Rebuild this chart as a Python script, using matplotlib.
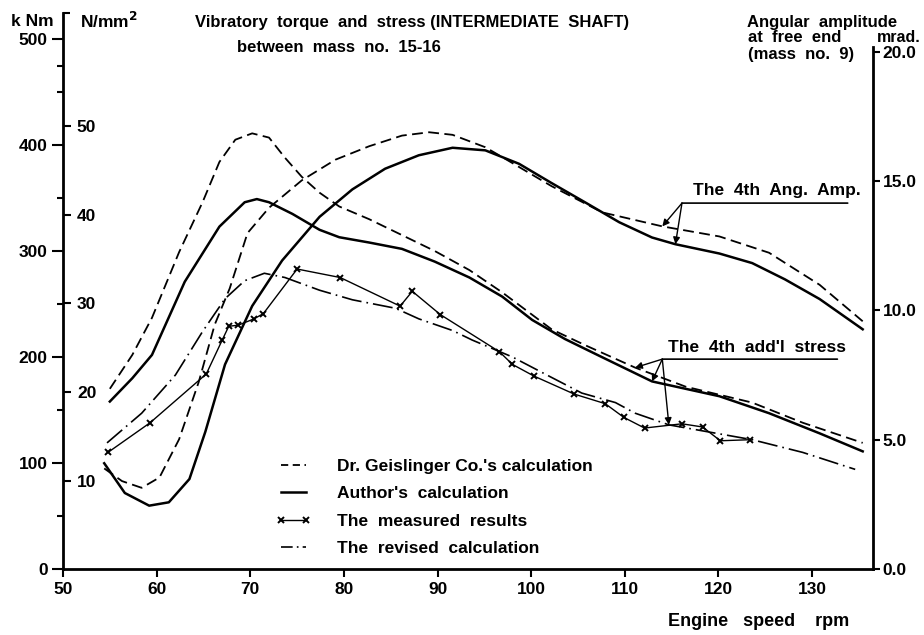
import matplotlib
matplotlib.use('Agg')
import matplotlib.pyplot as plt
from matplotlib.lines import Line2D

# Font: narrow technical lettering
plt.rcParams['font.family'] = ['Liberation Sans', 'DejaVu Sans']
plt.rcParams['font.weight'] = 'bold'
plt.rcParams['font.size'] = 12

# ---- data ----
# vibratory torque / stress (kNm), 4th order
geis_stress_rpm = [55.0, 57.4, 59.5, 62.4, 64.9, 66.7, 68.4, 70.2, 72.0, 73.7, 75.5, 77.4, 79.5,
                   82.7, 86.2, 89.7, 93.4, 96.9, 102.2, 105.8, 111.1, 116.5, 123.6, 129.0, 135.4]
geis_stress_knm = [170, 202, 237, 299, 346, 384, 405, 411, 407, 388, 370, 355, 342,
                   330, 315, 300, 282, 261, 226, 211, 190, 172, 157, 138, 119]

auth_stress_rpm = [55.0, 57.4, 59.5, 63.0, 66.7, 69.4, 70.7, 72.0, 74.5, 77.4, 79.5, 82.7, 86.2,
                   89.7, 93.4, 96.9, 100.1, 103.6, 107.3, 110.8, 112.9, 120.1, 125.4, 130.8, 135.4]
auth_stress_knm = [158, 180, 202, 271, 323, 346, 349, 346, 335, 320, 313, 308, 302,
                   290, 275, 257, 235, 217, 201, 186, 177, 163, 147, 128, 111]

revised_rpm = [54.7, 58.4, 62.0, 64.9, 67.3, 69.4, 71.5, 73.7, 77.4, 80.9, 85.5, 88.0,
               91.6, 93.7, 98.0, 101.9, 105.4, 109.0, 111.1, 114.7, 123.6, 129.0, 134.6]
revised_knm = [119, 147, 183, 224, 255, 272, 279, 275, 263, 254, 246, 236,
               225, 216, 200, 182, 166, 157, 147, 136, 122, 110, 94]

measured_rpm = [54.8, 59.3, 65.3, 67.0, 67.7, 68.7, 70.4, 71.4, 75.0, 79.6, 86.0, 87.3,
                90.3, 96.6, 98.0, 100.3, 104.6, 107.9, 109.9, 112.1, 116.1, 118.3, 120.2, 123.4]
measured_knm = [110, 138, 184, 216, 229, 230, 236, 241, 283, 275, 248, 262,
                240, 205, 193, 182, 165, 156, 143, 133, 137, 134, 121, 122]

# angular amplitude at free end (mrad), 4th order
geis_amp_rpm = [54.4, 56.3, 58.4, 60.3, 62.4, 64.5, 66.2, 67.8, 69.7, 72.0, 75.5, 79.1, 82.7,
                86.2, 89.1, 91.6, 95.1, 96.9, 102.2, 107.6, 114.0, 120.1, 125.4, 130.8, 135.4]
geis_amp_mrad = [3.89, 3.40, 3.14, 3.54, 5.02, 7.24, 9.45, 10.85, 12.99, 13.97, 15.03, 15.83, 16.35,
                 16.76, 16.89, 16.79, 16.31, 15.93, 14.80, 13.79, 13.25, 12.86, 12.23, 10.99, 9.58]

auth_amp_rpm = [54.4, 56.6, 59.2, 61.3, 63.5, 65.2, 67.3, 70.2, 73.4, 77.4, 80.9, 84.4, 88.0,
                91.6, 95.1, 98.7, 102.2, 105.8, 109.4, 112.9, 115.4, 120.1, 123.6, 127.1, 130.8, 135.4]
auth_amp_mrad = [4.09, 2.94, 2.45, 2.58, 3.48, 5.31, 7.91, 10.17, 11.93, 13.62, 14.68, 15.48, 16.00,
                 16.29, 16.19, 15.67, 14.92, 14.17, 13.41, 12.82, 12.56, 12.20, 11.83, 11.20, 10.44, 9.27]

rpm_ticks = [50, 60, 70, 80, 90, 100, 110, 120, 130]
knm_ticks = [0, 100, 200, 300, 400, 500]
stress_ticks = [10, 20, 30, 40, 50]
mrad_ticks = [0, 5, 10, 15, 20]
mrad_labels = ['0.0', '5.0', '10.0', '15.0', '20.0']
legend_labels = ["Dr. Geislinger Co.'s calculation", "Author's  calculation",
                 'The  measured  results', 'The  revised  calculation']

KNM_PER_STRESS = 8.35   # kNm per N/mm2 on the left scale
KNM_TOP = 525
MRAD_TOP = 21.52

dashed = (0, (6, 3))
dashdot = (0, (12, 3, 1, 3))

fig = plt.figure(figsize=(9.24, 6.35), dpi=100)
ax = fig.add_axes([0.0682, 0.1039, 0.8766, 0.8764])
ax2 = ax.twinx()
ax3 = ax.twinx()

ax.set_xlim(50, 136.5)
ax.set_ylim(0, KNM_TOP)
ax2.set_ylim(0, MRAD_TOP)
ax3.set_ylim(0, KNM_TOP / KNM_PER_STRESS)

# curves
ax.plot(geis_stress_rpm, geis_stress_knm, color='black', lw=1.3, ls=dashed)
ax.plot(auth_stress_rpm, auth_stress_knm, color='black', lw=1.8)
ax.plot(measured_rpm, measured_knm, color='black', lw=1.0, marker='x', ms=5, mew=1.4)
ax.plot(revised_rpm, revised_knm, color='black', lw=1.2, ls=dashdot)
ax2.plot(geis_amp_rpm, geis_amp_mrad, color='black', lw=1.3, ls=dashed)
ax2.plot(auth_amp_rpm, auth_amp_mrad, color='black', lw=1.8)

# spines
for a in (ax, ax2, ax3):
    a.spines['top'].set_visible(False)
    a.patch.set_visible(False)
ax.spines['right'].set_visible(False)
ax3.spines['left'].set_visible(False)
ax2.spines['left'].set_visible(False)
ax2.spines['bottom'].set_visible(False)
ax3.spines['bottom'].set_visible(False)
ax.spines['left'].set_linewidth(2.0)
ax.spines['bottom'].set_linewidth(2.0)
ax2.spines['right'].set_linewidth(2.0)
ax2.spines['right'].set_bounds(0, 20.2)
ax3.spines['right'].set_position(('axes', 0))
ax3.spines['right'].set_visible(False)

# x axis
ax.set_xticks(rpm_ticks)
ax.tick_params(axis='x', direction='out', length=6, width=1.5, pad=3, labelsize=12.5)

# kNm axis (left, outside)
ax.set_yticks(knm_ticks)
ax.set_yticks([50, 150, 250, 350, 450, 475], minor=True)
ax.tick_params(axis='y', which='major', direction='out', length=8, width=1.5, pad=3, labelsize=12.5)
ax.tick_params(axis='y', which='minor', direction='out', length=4, width=1.5)

# N/mm2 axis (same spine, ticks and labels inside)
ax3.set_yticks(stress_ticks)
ax3.set_yticks([KNM_TOP / KNM_PER_STRESS], minor=True)
ax3.tick_params(axis='y', which='major', direction='out', length=6, width=1.5, pad=4, labelsize=12.5)
ax3.tick_params(axis='y', which='minor', direction='out', length=5, width=1.5)

# mrad axis (right)
ax2.set_yticks(mrad_ticks)
ax2.set_yticklabels(mrad_labels)
ax2.tick_params(axis='y', direction='out', length=5, width=1.5, pad=2, labelsize=12.5)

# titles and axis names
def ftext(x, y, s, **kw):
    fig.text(x / 924, 1 - y / 635, s, **kw)

ftext(32, 21, 'k Nm', ha='center', va='center', fontsize=12.5)
ftext(80, 21, 'N/mm$^2$', ha='left', va='center', fontsize=12.5)
ftext(412, 23, 'Vibratory  torque  and  stress (INTERMEDIATE  SHAFT)', ha='center', va='center')
ftext(339, 47, 'between  mass  no.  15-16', ha='center', va='center')
ftext(747, 22, 'Angular  amplitude', ha='left', va='center')
ftext(748, 38, 'at  free  end', ha='left', va='center')
ftext(748, 54, '(mass  no.  9)', ha='left', va='center')
ftext(877, 38, 'mrad.', ha='left', va='center', fontsize=11.5)
ftext(759, 621, 'Engine   speed    rpm', ha='center', va='center', fontsize=13)

# annotations: 4th angular amplitude
amp_base = (116.1, 14.15)
ax2.annotate('', xy=(133.8, 14.15), xytext=amp_base,
             arrowprops=dict(arrowstyle='-', lw=1.2, color='black', shrinkA=0, shrinkB=0))
ax2.text(117.3, 14.45, 'The  4th  Ang.  Amp.', ha='left', va='baseline', fontsize=12.5)
ax2.annotate('', xy=(geis_amp_rpm[20], geis_amp_mrad[20]), xytext=amp_base,
             arrowprops=dict(arrowstyle='-|>', lw=1.0, color='black', mutation_scale=10,
                             shrinkA=0, shrinkB=0))
ax2.annotate('', xy=(auth_amp_rpm[20], auth_amp_mrad[20]), xytext=amp_base,
             arrowprops=dict(arrowstyle='-|>', lw=1.0, color='black', mutation_scale=10,
                             shrinkA=0, shrinkB=0))

# annotations: 4th additional stress
st_base = (114.0, 198.0)
ax.annotate('', xy=(132.7, 198.0), xytext=st_base,
            arrowprops=dict(arrowstyle='-', lw=1.2, color='black', shrinkA=0, shrinkB=0))
ax.text(114.6, 205, "The  4th  add'l  stress", ha='left', va='baseline', fontsize=12.5)
for xr, yv in [(geis_stress_rpm[20], geis_stress_knm[20]),
               (auth_stress_rpm[20], auth_stress_knm[20]),
               (revised_rpm[19], revised_knm[19])]:
    ax.annotate('', xy=(xr, yv), xytext=st_base,
                arrowprops=dict(arrowstyle='-|>', lw=1.0, color='black', mutation_scale=10,
                                shrinkA=0, shrinkB=0))

# legend (short-pattern handles like the drawn key)
handles = [Line2D([], [], color='black', lw=1.3, ls=(0, (4, 2.5))),
           Line2D([], [], color='black', lw=1.8),
           Line2D([], [], color='black', lw=1.0, marker='x', ms=4.5, mew=1.4),
           Line2D([], [], color='black', lw=1.2, ls=(0, (7, 2.5, 1, 2.5)))]
leg = ax.legend(handles, legend_labels, loc='upper left',
                bbox_to_anchor=(276 / 924, 1 - 459 / 635),
                bbox_transform=fig.transFigure, frameon=False, numpoints=2,
                handlelength=2.0, handletextpad=1.5, labelspacing=0.7, borderpad=0,
                borderaxespad=0, fontsize=12.5)

fig.savefig('out.png', dpi=100, facecolor='white')
